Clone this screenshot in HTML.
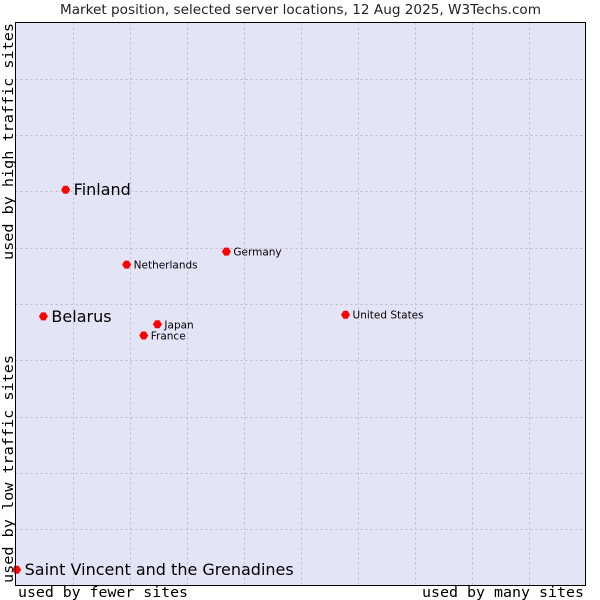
<!DOCTYPE html>
<html><head><meta charset="utf-8"><style>
body{margin:0;background:#fff;width:600px;height:600px;overflow:hidden}
svg{display:block;font-family:"DejaVu Sans","Liberation Sans",sans-serif}
</style></head><body>
<svg id="chart" width="600" height="600">
<text x="60" y="14" textLength="481" lengthAdjust="spacingAndGlyphs" font-size="13" fill="#222">Market position, selected server locations, 12 Aug 2025, W3Techs.com</text>
<rect x="15.5" y="22.5" width="570" height="563" fill="#e3e5f7" stroke="#000"/>
<g id="grid"></g>
<g id="points"></g>
<rect x="15.5" y="22.5" width="570" height="563" fill="none" stroke="#000"/>
<text x="18" y="597" textLength="170" lengthAdjust="spacingAndGlyphs" font-family="'DejaVu Sans Mono','Liberation Mono',monospace" font-size="14" fill="#000">used by fewer sites</text>
<text x="422" y="597" textLength="162" lengthAdjust="spacingAndGlyphs" font-family="'DejaVu Sans Mono','Liberation Mono',monospace" font-size="14" fill="#000">used by many sites</text>
<text transform="translate(13,260) rotate(-90)" textLength="237" lengthAdjust="spacingAndGlyphs" font-family="'DejaVu Sans Mono','Liberation Mono',monospace" font-size="14" fill="#000">used by high traffic sites</text>
<text transform="translate(13,583) rotate(-90)" textLength="228" lengthAdjust="spacingAndGlyphs" font-family="'DejaVu Sans Mono','Liberation Mono',monospace" font-size="14" fill="#000">used by low traffic sites</text>
</svg>
<script>
const countries=["Finland","Netherlands","Germany","Belarus","Japan","France","United States","Saint Vincent and the Grenadines"];
const xValues=[0.88,1.95,3.70,0.49,2.49,2.25,5.79,0.02];
const yValues=[7.03,5.70,5.93,4.78,4.64,4.44,4.81,0.28];
const bigLabel=[true,false,false,true,false,false,false,true];
const gridTicks=[1,2,3,4,5,6,7,8,9];
const X0=15.5,X1=585.5,Y0=585.5,Y1=22.5;
const sx=v=>X0+v/10*(X1-X0);
const sy=v=>Y0-v/10*(Y0-Y1);
const NS="http://www.w3.org/2000/svg";
const grid=document.getElementById('grid');
gridTicks.forEach(t=>{
  let l=document.createElementNS(NS,'line');
  l.setAttribute('x1',Math.round(sx(t))+0.5);l.setAttribute('x2',Math.round(sx(t))+0.5);
  l.setAttribute('y1',Y1);l.setAttribute('y2',Y0);
  l.setAttribute('stroke','#bbb');l.setAttribute('stroke-dasharray','2,3');
  
  
  grid.appendChild(l);
  let h=document.createElementNS(NS,'line');
  h.setAttribute('y1',Math.round(sy(t))+0.5);h.setAttribute('y2',Math.round(sy(t))+0.5);
  h.setAttribute('x1',X0);h.setAttribute('x2',X1);
  h.setAttribute('stroke','#bbb');h.setAttribute('stroke-dasharray','2,3');
  
  
  grid.appendChild(h);
});
const pts=document.getElementById('points');
countries.forEach((c,i)=>{
  const x=sx(xValues[i]),y=sy(yValues[i]);
  let d=document.createElementNS(NS,'path');
  d.setAttribute('d',`M${x-4.5},${y}L${x-2},${y-4}L${x+2},${y-4}L${x+4.5},${y}L${x+2},${y+4}L${x-2},${y+4}Z`);
  d.setAttribute('fill','#f00');
  
  
  pts.appendChild(d);
  let t=document.createElementNS(NS,'text');
  t.setAttribute('x',x+(bigLabel[i]?8:7));
  t.setAttribute('y',y+(bigLabel[i]?5.5:4));
  t.setAttribute('font-size',bigLabel[i]?16:10.5);
  t.setAttribute('fill','#000');
  t.textContent=c;
  
  
  pts.appendChild(t);
});
</script>
</body></html>
